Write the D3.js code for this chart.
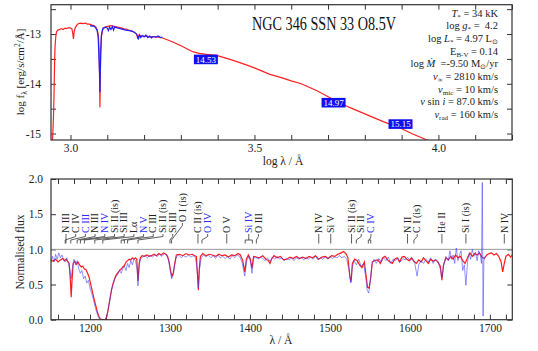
<!DOCTYPE html>
<html>
<head>
<meta charset="utf-8">
<script src="https://cdn.jsdelivr.net/npm/d3@7"></script>
<style>
  body { margin: 0; background: #fff; }
  text { white-space: pre; }
</style>
</head>
<body>
<svg id="chart" width="538" height="351"></svg>
<script>
// ---- SED panel (log lambda / log flux) ----
var sedModelLogW = [2.949, 2.952, 2.954, 2.955, 2.956, 2.957, 2.958, 2.960, 2.962, 2.965, 2.970, 2.975, 2.980, 2.985,
  2.990, 2.995, 3.000, 3.004, 3.006, 3.008, 3.010, 3.013, 3.018, 3.022, 3.028, 3.034, 3.040, 3.046, 3.052, 3.058,
  3.064, 3.069, 3.073, 3.076, 3.078, 3.079, 3.080, 3.081, 3.082, 3.084, 3.087, 3.092, 3.098, 3.104, 3.110, 3.116,
  3.122, 3.128, 3.134, 3.140, 3.146, 3.152, 3.158, 3.164, 3.170, 3.176, 3.180, 3.183, 3.186, 3.190, 3.196, 3.202,
  3.208, 3.214, 3.220, 3.226, 3.232, 3.240, 3.250, 3.261, 3.275, 3.290, 3.307, 3.320, 3.334, 3.350, 3.370, 3.397,
  3.420, 3.442, 3.470, 3.500, 3.542, 3.573, 3.600, 3.627, 3.670, 3.718, 3.760, 3.808, 3.850, 3.899, 3.930, 3.966, 4.000];
var sedModelLogF = [-15.40, -15.00, -14.60, -14.30, -13.90, -13.50, -13.25, -13.05, -12.96, -12.92, -12.91, -12.89, -12.91, -12.88,
  -12.89, -12.87, -12.88, -12.90, -12.98, -13.10, -12.95, -12.87, -12.81, -12.79, -12.78, -12.79, -12.78, -12.80, -12.80, -12.82,
  -12.83, -12.86, -12.92, -13.05, -13.40, -13.90, -14.47, -13.90, -13.40, -13.05, -12.92, -12.87, -12.85, -12.84, -12.83, -12.84,
  -12.85, -12.86, -12.87, -12.88, -12.90, -12.90, -12.92, -12.93, -12.95, -12.98, -13.00, -13.10, -13.02, -13.04, -13.03, -13.05,
  -13.04, -13.06, -13.05, -13.05, -13.06, -13.06, -13.08, -13.11, -13.15, -13.20, -13.26, -13.31, -13.36, -13.39, -13.41, -13.43,
  -13.48, -13.53, -13.60, -13.68, -13.81, -13.875, -13.94, -14.00, -14.14, -14.33, -14.48, -14.63, -14.76, -14.90, -15.01, -15.12, -15.22];

var sedObsLogW = [3.053, 3.058, 3.063, 3.068, 3.072, 3.075, 3.077, 3.079, 3.080, 3.081, 3.082, 3.084, 3.088, 3.095,
  3.100, 3.103, 3.106, 3.110, 3.114, 3.117, 3.120, 3.125, 3.130, 3.140, 3.150, 3.160, 3.170, 3.178, 3.182, 3.185,
  3.188, 3.191, 3.195, 3.200, 3.205, 3.210, 3.215, 3.220, 3.225, 3.232, 3.238, 3.244, 3.250];
var sedObsLogF = [-12.83, -12.84, -12.84, -12.87, -12.92, -13.04, -13.40, -13.80, -14.17, -13.80, -13.40, -13.02, -12.88, -12.86,
  -12.88, -12.93, -12.86, -12.91, -12.85, -12.92, -12.86, -12.87, -12.88, -12.90, -12.92, -12.93, -12.95, -12.99, -13.04, -13.09,
  -13.02, -13.07, -13.03, -13.06, -13.02, -13.07, -13.04, -13.08, -13.05, -13.06, -13.04, -13.07, -13.06];

var photLogW = [3.368, 3.715, 3.897];
var photLogF = [-13.51, -14.38, -14.81];
var photMag = ['14.53', '14.97', '15.15'];

var sedTitle = 'NGC 346 SSN 33 O8.5V';
var paramLines = [
  [['T', 'i'], ['*', 'sub'], [' = 34 kK', 'n']],
  [['log ', 'n'], ['g', 'i'], ['*', 'sub'], [' =  4.2', 'n']],
  [['log ', 'n'], ['L', 'i'], ['*', 'sub'], [' = 4.97 L', 'n'], ['\u2299', 'sub']],
  [['E', 'n'], ['B-V', 'sub'], [' = 0.14', 'n']],
  [['log ', 'n'], ['\u1E40', 'i'], ['  =-9.50 M', 'n'], ['\u2299', 'sub'], ['/yr', 'n']],
  [['v', 'i'], ['\u221E', 'sub'], [' = 2810 km/s', 'n']],
  [['v', 'i'], ['mic', 'sub'], [' = 10 km/s', 'n']],
  [['v', 'i'], [' sin ', 'n'], ['i', 'i'], [' = 87.0 km/s', 'n']],
  [['v', 'i'], ['rad', 'sub'], [' = 160 km/s', 'n']]
];

// ---- UV normalised panel ----
var uvModelWave = [1151, 1154, 1157, 1160, 1163, 1166, 1168, 1170, 1172, 1174, 1175.5, 1176.5, 1177.5, 1179, 1181, 1183, 1185,
  1187, 1189, 1191, 1193, 1195, 1197, 1199, 1201, 1203, 1205, 1207, 1209, 1211, 1213, 1216, 1219, 1221, 1223, 1225, 1227,
  1229, 1231, 1233, 1235, 1237, 1239, 1241, 1243, 1245, 1247, 1249, 1251, 1253, 1255, 1257, 1258.5, 1260, 1261.5, 1263,
  1265, 1268, 1271, 1274, 1277, 1280, 1283, 1286, 1289, 1292, 1295, 1297, 1299, 1301, 1302.5, 1304, 1306, 1308, 1312,
  1316, 1320, 1324, 1328, 1331, 1333, 1334.5, 1335.5, 1336.5, 1338, 1341, 1345, 1349, 1353, 1357, 1361, 1365, 1369, 1373,
  1377, 1381, 1385, 1388, 1391, 1393.5, 1395.5, 1398, 1400.5, 1402.5, 1404.5, 1408, 1412, 1416, 1420, 1423, 1425, 1427,
  1430, 1434, 1438, 1442, 1446, 1450, 1454, 1458, 1462, 1466, 1470, 1474, 1478, 1482, 1486, 1490, 1494, 1498, 1502, 1506,
  1510, 1514, 1517, 1520, 1522.5, 1525, 1526.5, 1528, 1531, 1534, 1537, 1540, 1543, 1545.5, 1547, 1549, 1551, 1553, 1556,
  1560, 1563, 1566, 1569, 1572, 1575, 1578, 1581, 1584, 1587, 1590, 1593, 1596, 1599, 1602, 1605, 1608, 1611, 1614, 1617,
  1620, 1623, 1626, 1629, 1632, 1635, 1638, 1640, 1642, 1645, 1648, 1651, 1654, 1657, 1660, 1663, 1666, 1669, 1672, 1675,
  1678, 1681, 1684, 1687, 1690, 1693, 1696, 1699, 1702, 1705, 1708, 1711, 1714, 1716, 1718, 1720, 1723, 1726, 1728];
var uvModelFlux = [0.85, 0.83, 0.86, 0.82, 0.85, 0.87, 0.84, 0.86, 0.83, 0.80, 0.55, 0.32, 0.55, 0.80, 0.83, 0.79, 0.82,
  0.78, 0.75, 0.76, 0.72, 0.71, 0.66, 0.60, 0.50, 0.40, 0.30, 0.21, 0.12, 0.05, 0.01, 0.0, 0.0, 0.04, 0.16, 0.30, 0.43,
  0.52, 0.59, 0.64, 0.67, 0.70, 0.72, 0.75, 0.77, 0.82, 0.84, 0.86, 0.85, 0.88, 0.86, 0.88, 0.86, 0.55, 0.80, 0.88,
  0.91, 0.90, 0.92, 0.90, 0.91, 0.93, 0.91, 0.94, 0.92, 0.95, 0.93, 0.90, 0.82, 0.68, 0.62, 0.66, 0.80, 0.92, 0.93,
  0.91, 0.94, 0.92, 0.93, 0.91, 0.90, 0.62, 0.42, 0.70, 0.90, 0.94, 0.91, 0.93, 0.92, 0.90, 0.93, 0.91, 0.92, 0.89,
  0.92, 0.91, 0.94, 0.92, 0.84, 0.68, 0.86, 0.92, 0.86, 0.73, 0.90, 0.89, 0.88, 0.91, 0.86, 0.84, 0.80, 0.86,
  0.91, 0.88, 0.90, 0.85, 0.86, 0.89, 0.87, 0.90, 0.87, 0.89, 0.87, 0.90, 0.88, 0.91, 0.86, 0.89, 0.90, 0.87, 0.91, 0.90,
  0.93, 0.95, 0.97, 0.94, 0.88, 0.60, 0.54, 0.80, 0.86, 0.84, 0.78, 0.74, 0.82, 0.60, 0.46, 0.45, 0.60, 0.82, 0.84,
  0.85, 0.80, 0.88, 0.90, 0.85, 0.82, 0.80, 0.86, 0.88, 0.82, 0.89, 0.90, 0.86, 0.84, 0.88, 0.83, 0.80, 0.85, 0.82, 0.88,
  0.84, 0.80, 0.86, 0.83, 0.85, 0.82, 0.76, 0.56, 0.78, 0.88, 0.85, 0.90, 0.86, 0.92, 0.88, 0.90, 0.84, 0.80, 0.88, 0.95,
  0.90, 0.94, 0.92, 0.95, 0.89, 0.87, 0.92, 0.94, 0.95, 0.92, 0.94, 0.90, 0.82, 0.68, 0.80, 0.90, 0.93, 0.89, 0.92];

var uvObsWave = [1151, 1153, 1155, 1157, 1159, 1161, 1163, 1165, 1167, 1169, 1171, 1173, 1175, 1176.5, 1178, 1180, 1182,
  1184, 1186, 1188, 1190, 1192, 1194, 1196, 1198, 1200, 1202, 1204, 1206, 1208, 1210, 1212, 1215, 1219, 1221, 1223, 1225,
  1227, 1229, 1231, 1233, 1235, 1237, 1239, 1241, 1243, 1245, 1247, 1249, 1251, 1253, 1255, 1257, 1259, 1260, 1261.5,
  1263, 1266, 1269, 1272, 1275, 1278, 1281, 1284, 1287, 1290, 1293, 1296, 1298, 1300, 1302, 1304, 1306, 1308, 1311,
  1314, 1317, 1320, 1323, 1326, 1329, 1332, 1334, 1335.5, 1337, 1339, 1342, 1345, 1348, 1351, 1354, 1357, 1360, 1363,
  1366, 1369, 1372, 1375, 1378, 1381, 1384, 1387, 1390, 1393.5, 1396, 1399, 1401, 1402.5, 1404.5, 1407, 1410, 1413,
  1416, 1419, 1422, 1425, 1428, 1431, 1434, 1437, 1440, 1443, 1446, 1449, 1452, 1455, 1458, 1461, 1464, 1467, 1470,
  1473, 1476, 1479, 1482, 1485, 1488, 1491, 1494, 1497, 1500, 1503, 1506, 1509, 1512, 1515, 1518, 1521, 1524, 1526,
  1528, 1530, 1533, 1536, 1539, 1542, 1544.5, 1546.5, 1548.5, 1550.5, 1552.5, 1555, 1558, 1561, 1564, 1567, 1570,
  1573, 1576, 1579, 1582, 1585, 1588, 1591, 1594, 1597, 1600, 1603, 1606, 1609, 1611, 1614, 1617, 1620, 1623, 1626,
  1629, 1632, 1635, 1638, 1640, 1642, 1645, 1648, 1650, 1652, 1654, 1656, 1658, 1660, 1662, 1664, 1666, 1668, 1670,
  1672, 1674, 1676, 1678, 1680, 1682, 1684, 1686, 1688, 1689.5, 1690.5, 1691.5, 1692.5, 1694];
var uvObsFlux = [0.80, 0.90, 0.82, 0.93, 0.86, 0.95, 0.88, 0.92, 0.85, 0.82, 0.88, 0.80, 0.70, 0.58, 0.74, 0.86, 0.78,
  0.84, 0.72, 0.66, 0.70, 0.58, 0.62, 0.52, 0.56, 0.45, 0.38, 0.30, 0.20, 0.12, 0.05, 0.01, 0.0, 0.0, 0.05, 0.17, 0.29,
  0.42, 0.50, 0.58, 0.62, 0.65, 0.70, 0.66, 0.72, 0.76, 0.70, 0.80, 0.74, 0.84, 0.78, 0.86, 0.84, 0.70, 0.48, 0.76,
  0.86, 0.89, 0.91, 0.88, 0.92, 0.89, 0.92, 0.90, 0.93, 0.90, 0.94, 0.91, 0.86, 0.72, 0.58, 0.64, 0.78, 0.90, 0.92,
  0.88, 0.91, 0.89, 0.92, 0.89, 0.91, 0.88, 0.70, 0.45, 0.72, 0.88, 0.92, 0.89, 0.92, 0.88, 0.91, 0.87, 0.92, 0.88,
  0.90, 0.87, 0.90, 0.86, 0.91, 0.88, 0.92, 0.90, 0.82, 0.62, 0.84, 0.90, 0.80, 0.66, 0.86, 0.90, 0.86, 0.89,
  0.87, 0.84, 0.88, 0.83, 0.89, 0.86, 0.90, 0.86, 0.88, 0.84, 0.87, 0.85, 0.88, 0.84, 0.88, 0.86, 0.89, 0.85, 0.88,
  0.86, 0.89, 0.86, 0.90, 0.85, 0.88, 0.86, 0.89, 0.86, 0.90, 0.87, 0.89, 0.88, 0.91, 0.88, 0.90, 0.86, 0.70, 0.52,
  0.74, 0.84, 0.78, 0.86, 0.76, 0.80, 0.62, 0.42, 0.38, 0.55, 0.78, 0.86, 0.80, 0.87, 0.82, 0.88, 0.84,
  0.89, 0.80, 0.86, 0.84, 0.88, 0.82, 0.87, 0.85, 0.89, 0.84, 0.87, 0.80, 0.62, 0.78, 0.84, 0.80, 0.86, 0.82, 0.88,
  0.80, 0.86, 0.83, 0.72, 0.60, 0.76, 0.90, 0.84, 0.98, 0.86, 0.92, 0.80, 1.02, 0.84, 0.92, 0.98, 0.70, 0.78, 0.49,
  0.82, 0.94, 0.86, 1.00, 0.90, 0.96, 0.84, 0.98, 0.92, 0.80, 1.95, 0.05, 0.85, 0.90];

// line identifications: name, rest wavelengths, wind line (drawn blue)
var lineNames = ['N III', 'C IV', 'C III', 'N III', 'N IV', 'Si II (is)', 'Si III', 'L\u03B1', 'N V', 'C III',
  'Si II (is)', 'Si III', 'O I (is)', 'C II (is)', 'O IV', 'O V', 'Si IV', 'O III', 'N IV', 'Si V', 'Si II (is)',
  'Si II', 'C IV', 'N II', 'C I (is)', 'He II', 'Si I (is)', 'N IV'];
var lineWaves = [[1170], [1169], [1176], [1184], [1188], [1193], [1206], [1216], [1239, 1243], [1247],
  [1260], [1300], [1302], [1335], [1340], [1371], [1394, 1403], [1408], [1486], [1501], [1527],
  [1533], [1548, 1551], [1597], [1605], [1640], [1670], [1718]];
var lineWind = [false, false, true, false, true, false, false, false, true, false,
  false, false, false, false, true, false, true, false, false, false, false,
  false, true, false, false, false, false, false];

var FONT = "'Liberation Serif', 'Times New Roman', Times, serif";
var svg;

document.addEventListener('DOMContentLoaded', function() {
  svg = d3.select('#chart');
  drawSed();
  drawUv();
  // everything in the Times-like face, like the gnuplot original
  svg.selectAll('g').attr('font-family', null);
  svg.selectAll('text').style('font-family', FONT);
});

function frame(x0, y0, x1, y1, id) {
  svg.append('clipPath').attr('id', id)
    .append('rect').attr('x', x0).attr('y', y0).attr('width', x1 - x0).attr('height', y1 - y0);
  svg.append('rect')
    .attr('x', x0).attr('y', y0).attr('width', x1 - x0).attr('height', y1 - y0)
    .attr('fill', 'none').attr('stroke', '#333').attr('stroke-width', 1.2);
}

function styleAxis(g) {
  g.select('.domain').remove();
  g.selectAll('.tick line').attr('stroke', '#333');
  g.selectAll('.tick text').attr('fill', '#222').attr('font-size', '11.5px');
}

function drawSed() {
  var x = d3.scaleLinear().domain([2.947, 4.2]).range([51, 512]);
  var y = d3.scaleLinear().domain([-15.13, -12.41]).range([140, 4.7]);

  var xt = d3.range(30, 43).map(d => d / 10);
  var yt = [-15, -14.5, -14, -13.5, -13, -12.5];

  svg.append('g').attr('transform', 'translate(0,140)')
    .call(d3.axisBottom(x).tickValues(xt).tickSizeInner(-5).tickSizeOuter(0).tickPadding(4)
      .tickFormat(d => (Math.round(d * 10) % 5 == 0) ? d3.format('.1f')(d) : ''))
    .call(styleAxis);
  svg.append('g').attr('transform', 'translate(0,4.7)')
    .call(d3.axisTop(x).tickValues(xt).tickSizeInner(-5).tickSizeOuter(0).tickFormat(''))
    .call(styleAxis);
  svg.append('g').attr('transform', 'translate(51,0)')
    .call(d3.axisLeft(y).tickValues(yt).tickSizeInner(-5).tickSizeOuter(0).tickPadding(10)
      .tickFormat(d => Number.isInteger(d) ? d : ''))
    .call(styleAxis);
  svg.append('g').attr('transform', 'translate(512,0)')
    .call(d3.axisRight(y).tickValues(yt).tickSizeInner(-5).tickSizeOuter(0).tickFormat(''))
    .call(styleAxis);

  var line = d3.line().x(d => x(d[0])).y(d => y(d[1]));
  var plot = svg.append('g').attr('clip-path', 'url(#clipSed)');
  plot.append('path')
    .datum(d3.zip(sedModelLogW, sedModelLogF))
    .attr('fill', 'none').attr('stroke', '#ff2020').attr('stroke-width', 1.2)
    .attr('d', line);
  plot.append('path')
    .datum(d3.zip(sedObsLogW, sedObsLogF))
    .attr('fill', 'none').attr('stroke', '#2020ff').attr('stroke-width', 1.2)
    .attr('d', line);

  // photometry markers
  var phot = plot.selectAll('.phot')
    .data(d3.zip(photLogW, photLogF, photMag))
    .enter().append('g')
    .attr('transform', d => 'translate(' + x(d[0]) + ',' + y(d[1]) + ')');
  phot.append('rect')
    .attr('x', -12).attr('y', -4.8).attr('width', 24).attr('height', 9.6)
    .attr('fill', '#1010ee');
  phot.append('text')
    .attr('text-anchor', 'middle').attr('y', 3.2)
    .attr('font-size', '9px').attr('fill', '#fff')
    .text(d => d[2]);

  frame(51, 4.7, 512, 140, 'clipSed');

  svg.append('text')
    .attr('x', 252).attr('y', 30)
    .attr('font-size', '19px').attr('fill', '#111')
    .attr('textLength', 144).attr('lengthAdjust', 'spacingAndGlyphs')
    .text(sedTitle);

  paramLines.forEach(function(parts, i) {
    var t = svg.append('text')
      .attr('x', 498).attr('y', 16.5 + i * 12.7)
      .attr('text-anchor', 'end')
      .attr('font-size', '10.5px').attr('fill', '#222');
    var shift = 0;
    parts.forEach(function(p) {
      var s = t.append('tspan').text(p[0]);
      var want = p[1] == 'sub' ? 2 : 0;
      if (want != shift) { s.attr('dy', want - shift); shift = want; }
      if (p[1] == 'sub') s.attr('font-size', '7px');
      if (p[1] == 'i') s.attr('font-style', 'italic');
    });
  });

  var yl = svg.append('text')
    .attr('transform', 'translate(24,72) rotate(-90)')
    .attr('text-anchor', 'middle')
    .attr('font-size', '11px').attr('fill', '#222');
  yl.append('tspan').text('log f');
  yl.append('tspan').attr('dy', 2.5).attr('font-size', '7.5px').text('\u03BB');
  yl.append('tspan').attr('dy', -2.5).text(' [erg/s/cm');
  yl.append('tspan').attr('dy', -4).attr('font-size', '7.5px').text('2');
  yl.append('tspan').attr('dy', 4).text('/\u00C5]');

  svg.append('text')
    .attr('x', 283).attr('y', 165)
    .attr('text-anchor', 'middle')
    .attr('font-size', '11.5px').attr('fill', '#222')
    .text('log \u03BB / \u00C5');
}

function drawUv() {
  var x = d3.scaleLinear().domain([1151.25, 1728]).range([51, 512.3]);
  var y = d3.scaleLinear().domain([0, 2]).range([319.7, 179]);

  var xt = d3.range(1160, 1721, 20);
  var yt = [0, 0.5, 1, 1.5, 2];

  svg.append('g').attr('transform', 'translate(0,319.7)')
    .call(d3.axisBottom(x).tickValues(xt).tickSizeInner(-5).tickSizeOuter(0).tickPadding(4)
      .tickFormat(d => d % 100 == 0 ? d : ''))
    .call(styleAxis);
  svg.append('g').attr('transform', 'translate(0,179)')
    .call(d3.axisTop(x).tickValues(xt).tickSizeInner(-5).tickSizeOuter(0).tickFormat(''))
    .call(styleAxis);
  svg.append('g').attr('transform', 'translate(51,0)')
    .call(d3.axisLeft(y).tickValues(yt).tickSizeInner(-5).tickSizeOuter(0).tickPadding(8)
      .tickFormat(d3.format('.1f')))
    .call(styleAxis);
  svg.append('g').attr('transform', 'translate(512.3,0)')
    .call(d3.axisRight(y).tickValues(yt).tickSizeInner(-5).tickSizeOuter(0).tickFormat(''))
    .call(styleAxis);

  // continuum level
  svg.append('line')
    .attr('x1', 51).attr('x2', 512.3).attr('y1', y(1)).attr('y2', y(1))
    .attr('stroke', '#999').attr('stroke-width', 1);

  var line = d3.line().x(d => x(d[0])).y(d => y(d[1]));
  var plot = svg.append('g').attr('clip-path', 'url(#clipUv)');
  plot.append('path')
    .datum(d3.zip(uvModelWave, uvModelFlux))
    .attr('fill', 'none').attr('stroke', '#ff1a1a').attr('stroke-width', 1.2)
    .attr('d', line);
  plot.append('path')
    .datum(d3.zip(uvObsWave, uvObsFlux))
    .attr('fill', 'none').attr('stroke', '#3a3aff').attr('stroke-opacity', 0.55).attr('stroke-width', 1)
    .attr('d', line);

  frame(51, 179, 512.3, 319.7, 'clipUv');

  // line identification labels, pushed apart so they do not overlap
  var gap = 9.7;
  var prev = -1e9;
  var labels = lineNames.map(function(name, i) {
    var mid = d3.mean(lineWaves[i]);
    var lx = Math.max(x(mid), prev + gap);
    prev = lx;
    return { name: name, waves: lineWaves[i], wind: lineWind[i], lx: lx, raised: name == 'O I (is)' };
  });

  var ids = svg.append('g');
  labels.forEach(function(d) {
    var col = d.wind ? '#2a2aff' : '#222';
    var base = d.raised ? 222 : 233;
    var xs = d.waves.map(w => x(w));
    var xm = d3.mean(xs);
    ids.append('text')
      .attr('transform', 'translate(' + (d.lx + 3.2) + ',' + base + ') rotate(-90)')
      .attr('font-size', '10px').attr('fill', col)
      .text(d.name);
    var path = d3.path();
    path.moveTo(d.lx, base + 1);
    path.lineTo(d.lx, base + 3.5);
    path.lineTo(xm, 240);
    if (xs.length > 1) {
      path.moveTo(d3.min(xs), 240);
      path.lineTo(d3.max(xs), 240);
    }
    xs.forEach(function(v) { path.moveTo(v, 240); path.lineTo(v, 243.5); });
    ids.append('path').attr('d', path.toString())
      .attr('fill', 'none').attr('stroke', '#333').attr('stroke-width', 0.8);
  });

  svg.append('text')
    .attr('transform', 'translate(24,252) rotate(-90)')
    .attr('text-anchor', 'middle')
    .attr('font-size', '11.5px').attr('fill', '#222')
    .text('Normalised flux');

  svg.append('text')
    .attr('x', 281).attr('y', 344)
    .attr('text-anchor', 'middle')
    .attr('font-size', '11.5px').attr('fill', '#222')
    .text('\u03BB / \u00C5');
}
</script>
</body>
</html>
